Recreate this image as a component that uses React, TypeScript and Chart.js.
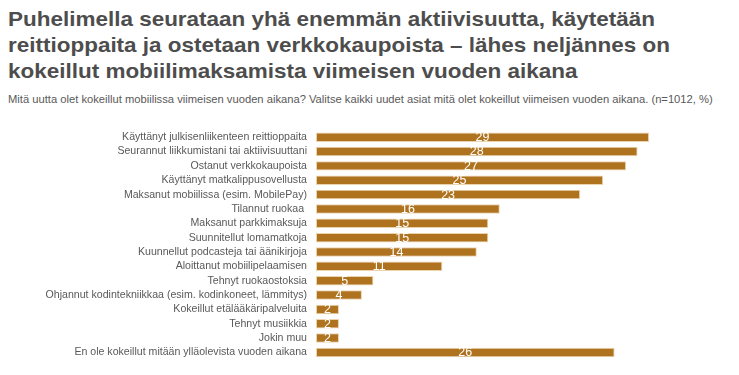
import React, { useEffect, useLayoutEffect, useRef } from "react";
import { Chart, registerables } from "chart.js";

Chart.register(...registerables);

const titleLines = [
  "Puhelimella seurataan yhä enemmän aktiivisuutta, käytetään",
  "reittioppaita ja ostetaan verkkokaupoista – lähes neljännes on",
  "kokeillut mobiilimaksamista viimeisen vuoden aikana",
];
const subtitle =
  "Mitä uutta olet kokeillut mobiilissa viimeisen vuoden aikana? Valitse kaikki uudet asiat mitä olet kokeillut viimeisen vuoden aikana. (n=1012, %)";

const categories = [
  "Käyttänyt julkisenliikenteen reittioppaita",
  "Seurannut liikkumistani tai aktiivisuuttani",
  "Ostanut verkkokaupoista",
  "Käyttänyt matkalippusovellusta",
  "Maksanut mobiilissa (esim. MobilePay)",
  "Tilannut ruokaa ",
  "Maksanut parkkimaksuja",
  "Suunnitellut lomamatkoja",
  "Kuunnellut podcasteja tai äänikirjoja",
  "Aloittanut mobiilipelaamisen",
  "Tehnyt ruokaostoksia",
  "Ohjannut kodintekniikkaa (esim. kodinkoneet, lämmitys)",
  "Kokeillut etälääkäripalveluita",
  "Tehnyt musiikkia",
  "Jokin muu",
  "En ole kokeillut mitään ylläolevista vuoden aikana",
];
const values = [29, 28, 27, 25, 23, 16, 15, 15, 14, 11, 5, 4, 2, 2, 2, 26];

const BAR = "#AF731F";
const BAR_BORDER = "#EBD3AE";
const TITLE_WIDTH = 647;

const valueLabels = {
  id: "valueLabels",
  afterDatasetsDraw(chart: any) {
    const ctx = chart.ctx;
    const meta = chart.getDatasetMeta(0);
    ctx.save();
    ctx.fillStyle = "#FFFFFF";
    ctx.font = "12.5px 'Liberation Sans', Arial, sans-serif";
    ctx.textAlign = "center";
    ctx.textBaseline = "middle";
    meta.data.forEach((el: any, i: number) => {
      const cx = (el.x + el.base) / 2;
      ctx.fillText(String(values[i]), cx, el.y + 0.5);
    });
    ctx.restore();
  },
};

export default function App() {
  const ref = useRef<HTMLCanvasElement | null>(null);
  const titleRef = useRef<HTMLDivElement | null>(null);

  useLayoutEffect(() => {
    const t = titleRef.current;
    if (!t) return;
    const first = t.firstElementChild as HTMLElement | null;
    if (!first) return;
    const w = first.getBoundingClientRect().width;
    if (w > 0) {
      t.style.transform = `scaleX(${TITLE_WIDTH / w})`;
    }
  }, []);

  useEffect(() => {
    if (!ref.current) return;
    const chart = new Chart(ref.current, {
      type: "bar",
      data: {
        labels: categories,
        datasets: [
          {
            data: values,
            backgroundColor: BAR,
            borderColor: BAR_BORDER,
            borderWidth: 1,
            borderSkipped: false,
            barPercentage: 0.66,
            categoryPercentage: 1,
          },
        ],
      },
      options: {
        indexAxis: "y",
        responsive: true,
        maintainAspectRatio: false,
        animation: false,
        layout: { padding: { top: 130, bottom: 11, right: 21, left: 0 } },
        plugins: {
          legend: { display: false },
          tooltip: { enabled: false },
          title: { display: false },
        },
        scales: {
          x: { display: false, min: 0, max: 35 },
          y: {
            grid: { display: false, drawTicks: false },
            border: { display: false },
            afterFit(scale: any) {
              scale.width = 316;
            },
            ticks: {
              padding: 9,
              color: "#595959",
              font: { family: "'Liberation Sans', Arial, sans-serif", size: 10.6 },
              autoSkip: false,
            },
          },
        },
      },
      plugins: [valueLabels],
    });
    return () => chart.destroy();
  }, []);

  return (
    <div
      style={{
        position: "fixed",
        left: 0,
        top: 0,
        width: 739,
        height: 375,
        background: "#fff",
        overflow: "hidden",
      }}
    >
      <div
        ref={titleRef}
        style={{
          position: "absolute",
          left: 8,
          top: 6,
          fontFamily: "'Liberation Sans', Arial, sans-serif",
          fontWeight: "bold",
          fontSize: 21,
          lineHeight: "26px",
          color: "#4D4D4D",
          whiteSpace: "nowrap",
          transformOrigin: "0 0",
        }}
      >
        {titleLines.map((l, i) => (
          <div key={i} style={{ display: "table" }}>
            {l}
          </div>
        ))}
      </div>
      <div
        style={{
          position: "absolute",
          left: 8,
          top: 92,
          fontFamily: "'Liberation Sans', Arial, sans-serif",
          fontSize: 11.2,
          lineHeight: "14px",
          color: "#595959",
          whiteSpace: "nowrap",
        }}
      >
        {subtitle}
      </div>
      <div style={{ position: "absolute", left: 0, top: 0, width: 739, height: 375 }}>
        <canvas ref={ref} />
      </div>
    </div>
  );
}
